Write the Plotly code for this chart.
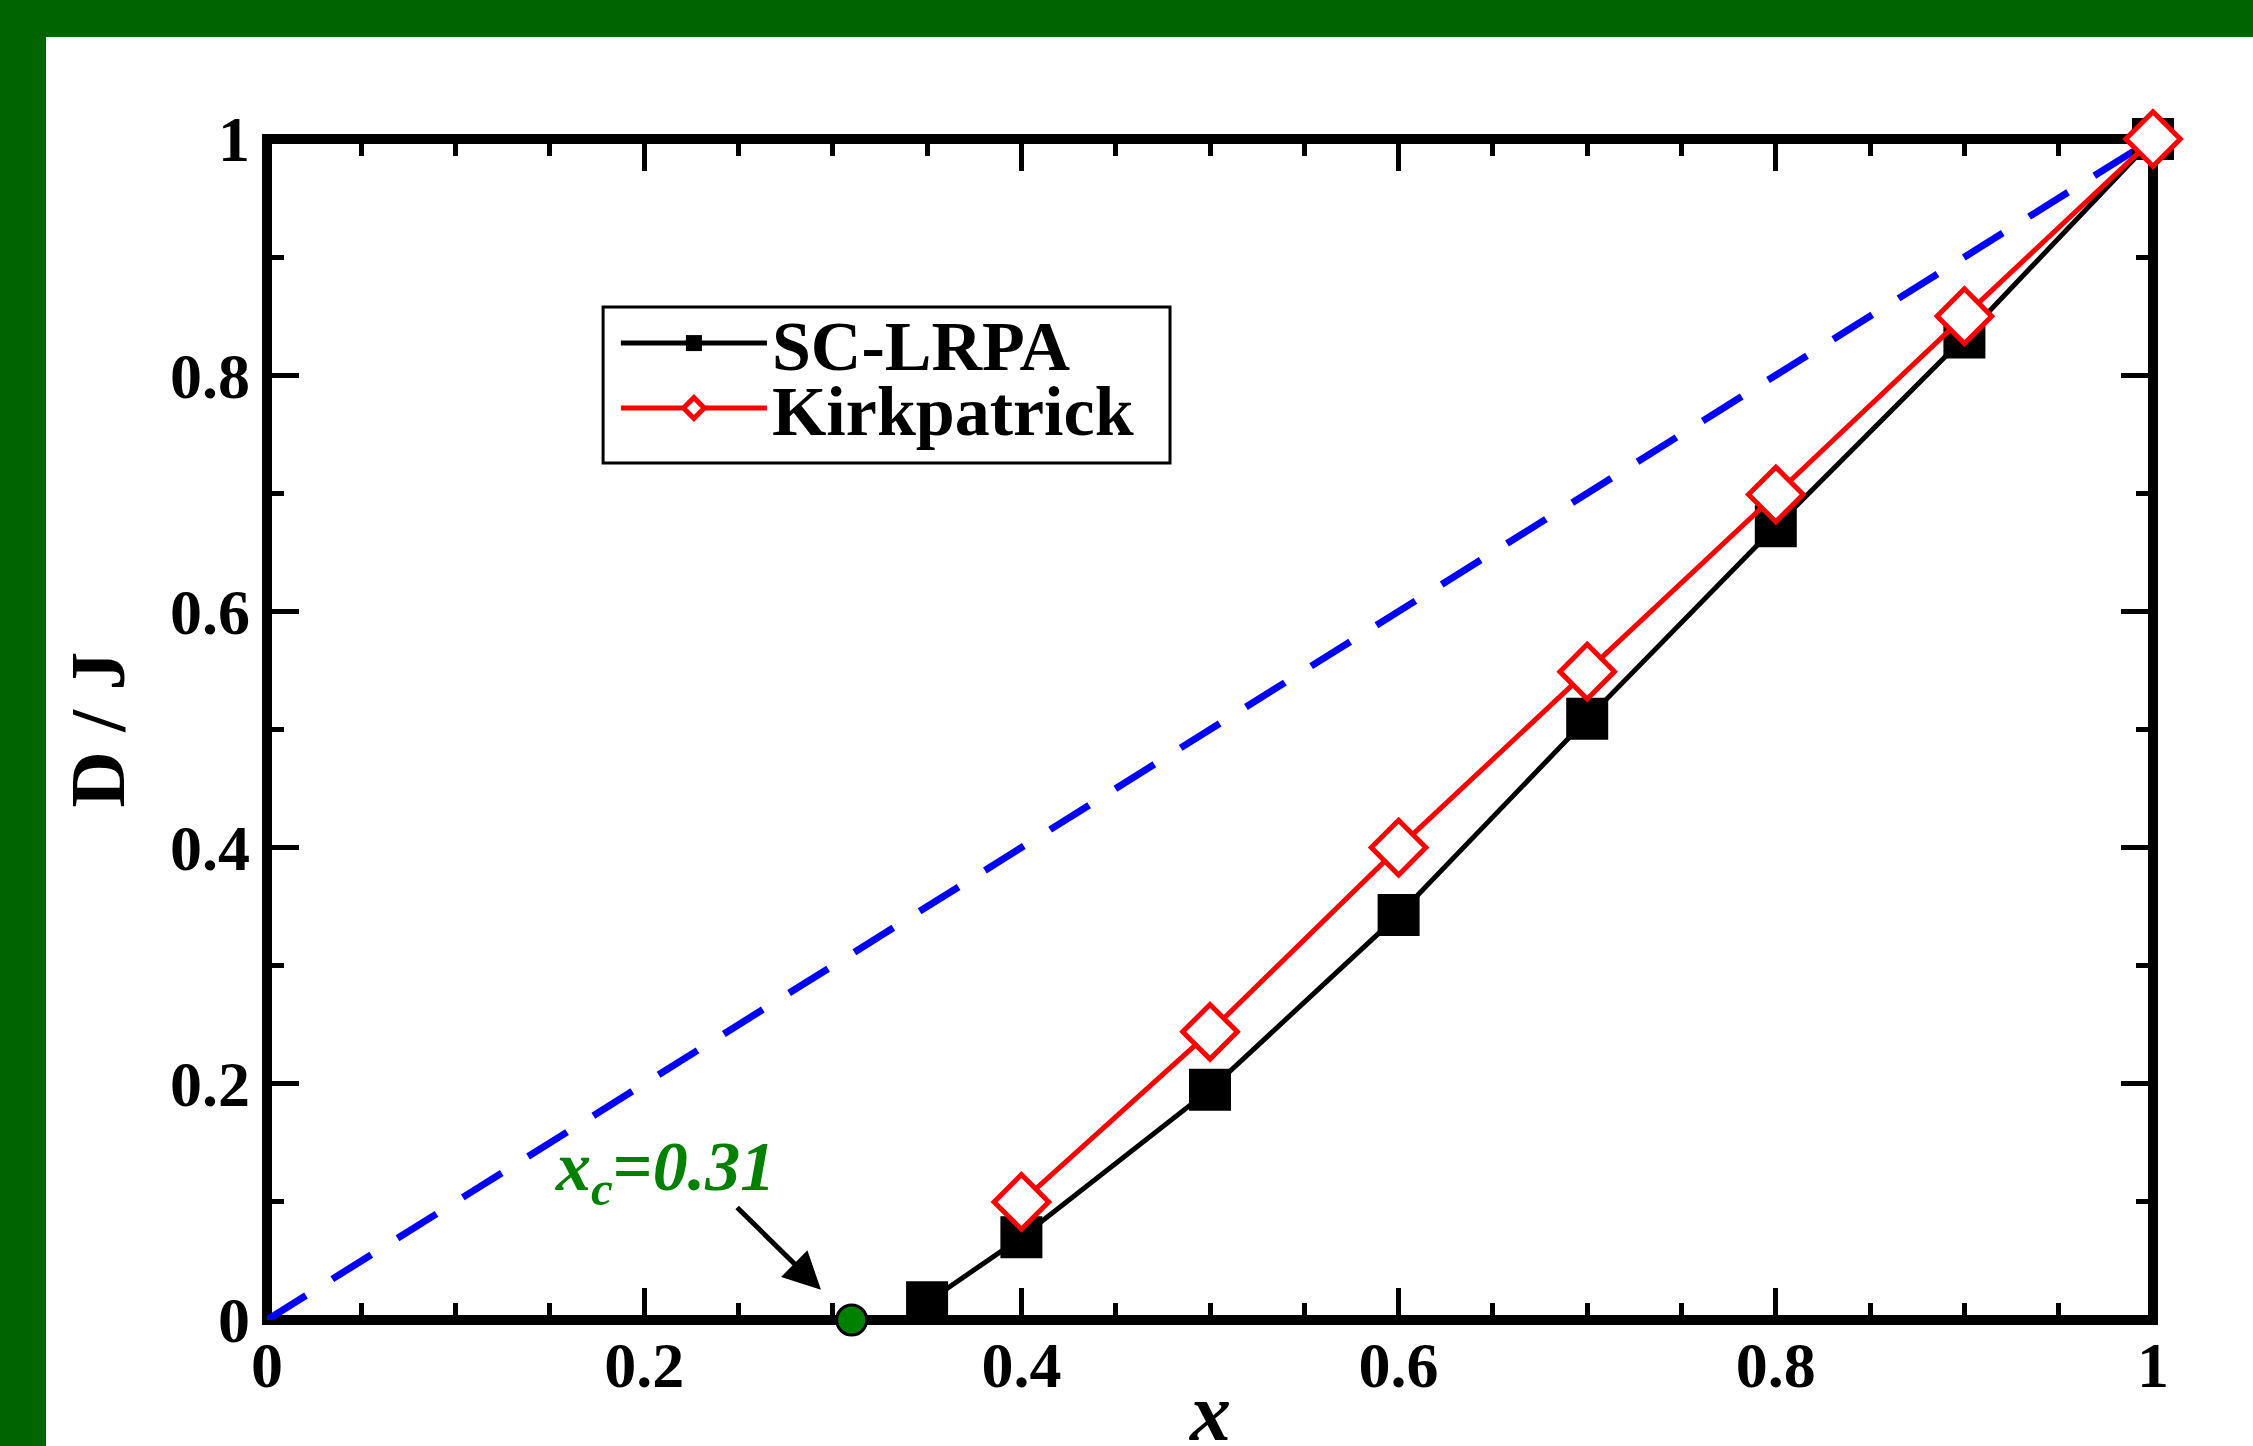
import plotly.graph_objects as go

# ---- data ----
x_sc = [0.35, 0.4, 0.5, 0.6, 0.7, 0.8, 0.9, 1.0]
y_sc = [0.015, 0.07, 0.195, 0.343, 0.509, 0.672, 0.832, 1.0]

x_kp = [0.4, 0.5, 0.6, 0.7, 0.8, 0.9, 1.0]
y_kp = [0.10, 0.244, 0.40, 0.549, 0.699, 0.85, 1.0]

x_ref = [0.0, 1.0]
y_ref = [0.0, 1.0]

x_c = [0.31]
y_c = [0.0]

x_ticks = [0, 0.2, 0.4, 0.6, 0.8, 1]
y_ticks = [0, 0.2, 0.4, 0.6, 0.8, 1]

SERIF = "Liberation Serif, Times New Roman, serif"
GREEN_BG = "#006400"

fig = go.Figure()

fig.add_trace(go.Scatter(
    x=x_ref, y=y_ref, mode="lines", showlegend=False, cliponaxis=False,
    line=dict(color="#0000ff", width=7, dash="46px,31px"),
))
fig.add_trace(go.Scatter(
    x=x_sc, y=y_sc, mode="lines+markers", name="SC-LRPA", cliponaxis=False,
    line=dict(color="black", width=5),
    marker=dict(symbol="square", size=42, color="black", line=dict(width=0)),
    legend="legend",
))
fig.add_trace(go.Scatter(
    x=x_kp, y=y_kp, mode="lines+markers", name="Kirkpatrick", cliponaxis=False,
    line=dict(color="#ff0000", width=5),
    marker=dict(symbol="diamond", size=42, color="white",
                line=dict(color="#ff0000", width=5)),
    legend="legend2",
))
fig.add_trace(go.Scatter(
    x=x_c, y=y_c, mode="markers", showlegend=False, cliponaxis=False,
    marker=dict(symbol="circle", size=30, color="#008000",
                line=dict(color="black", width=3)),
))

axis_common = dict(
    range=[0, 1], showgrid=False, zeroline=False, showline=False,
    ticks="inside", ticklen=32, tickwidth=5, tickcolor="black", mirror="ticks",
    tickfont=dict(family=SERIF, size=64, color="black", weight="bold"),
)
fig.update_xaxes(**axis_common, tickvals=x_ticks, ticklabelstandoff=2,
                 minor=dict(dtick=0.05, ticks="inside", ticklen=17, tickwidth=5, tickcolor="black"))
fig.update_yaxes(**axis_common, tickvals=y_ticks, ticklabelstandoff=16,
                 minor=dict(dtick=0.1, ticks="inside", ticklen=17, tickwidth=5, tickcolor="black"))

shapes = [
    # green frame (top + left band)
    dict(type="rect", xref="paper", yref="paper", x0=-0.16, x1=1.1, y0=1.0864, y1=1.13,
         fillcolor=GREEN_BG, line=dict(width=0), layer="below"),
    dict(type="rect", xref="paper", yref="paper", x0=-0.16, x1=-0.11718, y0=-0.12, y1=1.13,
         fillcolor=GREEN_BG, line=dict(width=0), layer="below"),
    # plot frame
    dict(type="rect", xref="paper", yref="paper", x0=0, x1=1, y0=0, y1=1,
         line=dict(color="black", width=10), fillcolor="rgba(0,0,0,0)", layer="below"),
    # legend box
    dict(type="rect", xref="paper", yref="paper", x0=0.1782, x1=0.4788, y0=0.7257, y1=0.8578,
         line=dict(color="black", width=3), fillcolor="white", layer="below"),
]

annotations = [
    dict(text="<b>D / J</b>", xref="paper", yref="paper", x=-0.0901, y=0.5,
         xanchor="center", yanchor="middle", textangle=-90, showarrow=False,
         font=dict(family=SERIF, size=78, color="black")),
    dict(text="<b><i>x</i></b>", xref="paper", yref="paper", x=0.5, y=-0.078,
         xanchor="center", yanchor="middle", showarrow=False,
         font=dict(family=SERIF, size=82, color="black")),
    dict(text="<b><i>x</i><sub><i>c</i></sub>=<i>0.31</i></b>", xref="x", yref="y",
         x=0.2108, y=0.125, xanchor="center", yanchor="middle", showarrow=False,
         font=dict(family=SERIF, size=70, color="#008000")),
    dict(text="", xref="x", yref="y", x=x_c[0], y=y_c[0], ax=-116, ay=-114,
         showarrow=True, arrowhead=2, arrowsize=1.5, arrowwidth=5, arrowcolor="black",
         standoff=43),
]

legend_common = dict(
    bgcolor="rgba(0,0,0,0)", borderwidth=0, xanchor="left", yanchor="middle",
    font=dict(family=SERIF, size=70, color="black", weight="bold"),
    itemwidth=146,
)

fig.update_layout(
    width=2253, height=1446,
    margin=dict(l=267, r=100, t=139, b=126),
    paper_bgcolor="white", plot_bgcolor="white",
    shapes=shapes, annotations=annotations,
    legend=dict(**legend_common, x=0.185, y=0.8272),
    legend2=dict(**legend_common, x=0.185, y=0.7722),
)

fig.write_html("out.html", config={"displayModeBar": False},
               post_script="document.body.style.margin='0';document.body.style.padding='0';")
